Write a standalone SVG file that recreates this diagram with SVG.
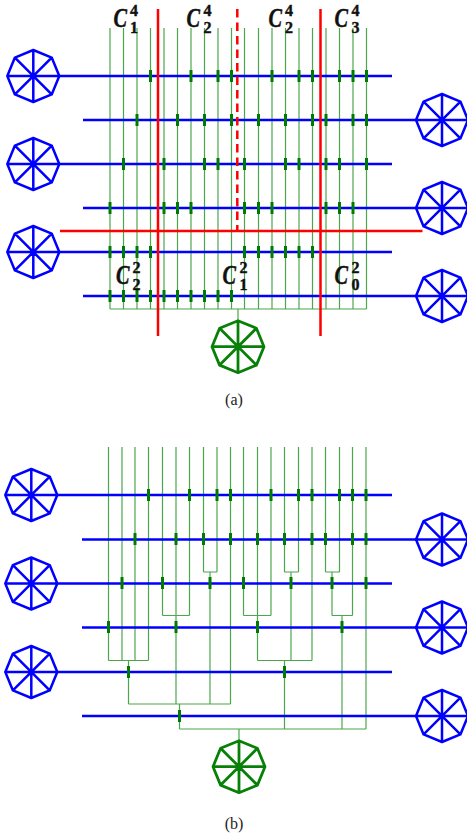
<svg xmlns="http://www.w3.org/2000/svg" width="467" height="839" viewBox="0 0 467 839">
<style>
.v{fill:none;stroke:#008000;stroke-width:1.2;stroke-opacity:.7}
.r{fill:none;stroke:#0000ff;stroke-width:2.6}
.t{fill:none;stroke:#007a00;stroke-width:3}
.x{fill:none;stroke:#ff0000;stroke-width:2.5}
.o{fill:none;stroke-width:2.5;stroke-linejoin:round}
.b{stroke:#0000ff}
.g{stroke:#088008;stroke-width:2.8}
.c{font-family:"Liberation Serif",serif;font-weight:bold;font-style:italic;font-size:27px;fill:#111;stroke:#111;stroke-width:.5}
.d{font-family:"Liberation Serif",serif;font-weight:bold;font-size:16px;text-anchor:middle;fill:#111;stroke:#111;stroke-width:.4}
.cap{font-family:"Liberation Serif",serif;font-size:16px;text-anchor:middle;fill:#222}
</style>
<defs>
<path id="oct" d="M-26 0L-18.4 -18.4L0 -26L18.4 -18.4L26 0L18.4 18.4L0 26L-18.4 18.4ZM-26 0H26M0 -26V26M-18.4 -18.4L18.4 18.4M18.4 -18.4L-18.4 18.4"/>
</defs>

<g id="connectors-a">
<path class="v" d="M110 28V309M123.5 28V309M137 28V309M150.5 28V309M164 28V309M177.5 28V309M191 28V309M204.5 28V309M218 28V309M231.5 28V309M244.5 28V309M258.5 28V309M272 28V309M285.5 28V309M299 28V309M312.5 28V309M326 28V309M339.5 28V309M353 28V309M366.5 28V309M110 309H366.5M238 309V321"/>
<path class="r" d="M58 76H392M83 120H417M58 164H392M83 208H417M58 252H392M83 296H417"/>
<path class="t" d="M150.5 70v12M191 70v12M218 70v12M231.5 70v12M272 70v12M299 70v12M312.5 70v12M339.5 70v12M353 70v12M366.5 70v12"/>
<path class="t" d="M137 114v12M177.5 114v12M204.5 114v12M231.5 114v12M258.5 114v12M285.5 114v12M312.5 114v12M326 114v12M353 114v12M366.5 114v12"/>
<path class="t" d="M123.5 158v12M164 158v12M204.5 158v12M218 158v12M244.5 158v12M285.5 158v12M299 158v12M326 158v12M339.5 158v12M366.5 158v12"/>
<path class="t" d="M110 202v12M164 202v12M177.5 202v12M191 202v12M244.5 202v12M258.5 202v12M272 202v12M326 202v12M339.5 202v12M353 202v12"/>
<path class="t" d="M110 246v12M123.5 246v12M137 246v12M150.5 246v12M244.5 246v12M258.5 246v12M272 246v12M285.5 246v12M299 246v12M312.5 246v12"/>
<path class="t" d="M110 290v12M123.5 290v12M137 290v12M150.5 290v12M164 290v12M177.5 290v12M191 290v12M204.5 290v12M218 290v12M231.5 290v12"/>
<path class="x" d="M158 9V336M320.5 9V336M60 231H422.5"/>
<path class="x" d="M237.3 9V231" stroke-dasharray="8.5 5"/>
</g>

<g id="connectors-b">
<path class="v" d="M108.5 447V660.5M122 447V660.5M135 447V660.5M148.5 447V660.5M108.5 660.5H148.5M128.5 660.5V704M128.5 704H230.5M230.5 447V704M176 447V704M179.5 704V729M162.5 447V615.5M189.5 447V615.5M162.5 615.5H189.5M203.5 447V572M217 447V572M203.5 572H217M210 572V704M243.5 447V615.5M271 447V615.5M243.5 615.5H271M257.5 447V660.5M257.5 660.5H312M312 447V660.5M284.5 447V572M298.5 447V572M284.5 572H298.5M291 572V660.5M284.5 660.5V729M325.5 447V572M339.5 447V572M325.5 572H339.5M332 572V615.5M332 615.5H352.5M352.5 447V615.5M342 615.5V729M366 447V729M179.5 729H366M239 729V741"/>
<path class="r" d="M56 495H392M82 539.5H417M56 583.5H392M82 627.5H417M56 672H392M82 716H417"/>
<path class="t" d="M148.5 489v12M189.5 489v12M217 489v12M230.5 489v12M271 489v12M298.5 489v12M312 489v12M339.5 489v12M352.5 489v12M366 489v12"/>
<path class="t" d="M135 533v12M176 533v12M203.5 533v12M230.5 533v12M257.5 533v12M284.5 533v12M312 533v12M325.5 533v12M352.5 533v12M366 533v12"/>
<path class="t" d="M122 577v12M162.5 577v12M210 577v12M243.5 577v12M291 577v12M332 577v12M366 577v12"/>
<path class="t" d="M108.5 621v12M176 621v12M257.5 621v12M342 621v12"/>
<path class="t" d="M128.5 666v12M284.5 666v12"/>
<path class="t" d="M179.5 710v12"/>
</g>

<g id="node-a-l1"><use href="#oct" class="o b" x="33.3" y="76"/></g>
<g id="node-a-l2"><use href="#oct" class="o b" x="33.3" y="164"/></g>
<g id="node-a-l3"><use href="#oct" class="o b" x="33.3" y="252"/></g>
<g id="node-a-r1"><use href="#oct" class="o b" x="442" y="120"/></g>
<g id="node-a-r2"><use href="#oct" class="o b" x="442" y="208"/></g>
<g id="node-a-r3"><use href="#oct" class="o b" x="442" y="296"/></g>
<g id="node-a-out"><use href="#oct" class="o g" x="238" y="346.7"/></g>
<g id="node-b-l1"><use href="#oct" class="o b" x="31.3" y="495"/></g>
<g id="node-b-l2"><use href="#oct" class="o b" x="31.3" y="583.5"/></g>
<g id="node-b-l3"><use href="#oct" class="o b" x="31.3" y="672"/></g>
<g id="node-b-r1"><use href="#oct" class="o b" x="442" y="539.5"/></g>
<g id="node-b-r2"><use href="#oct" class="o b" x="442" y="627.5"/></g>
<g id="node-b-r3"><use href="#oct" class="o b" x="442" y="716"/></g>
<g id="node-b-out"><use href="#oct" class="o g" x="239" y="766.7"/></g>

<g id="labels">
<text class="c" x="113.5" y="26.5" textLength="13.5" lengthAdjust="spacingAndGlyphs">C</text><text class="d" x="134" y="15.7">4</text><text class="d" x="134" y="33">1</text>
<text class="c" x="186.5" y="26.5" textLength="13.5" lengthAdjust="spacingAndGlyphs">C</text><text class="d" x="207.5" y="15.7">4</text><text class="d" x="207.5" y="33">2</text>
<text class="c" x="268.5" y="26.5" textLength="13.5" lengthAdjust="spacingAndGlyphs">C</text><text class="d" x="289" y="15.7">4</text><text class="d" x="289" y="33">2</text>
<text class="c" x="334.5" y="26.5" textLength="13.5" lengthAdjust="spacingAndGlyphs">C</text><text class="d" x="355.5" y="15.7">4</text><text class="d" x="355.5" y="33">3</text>
<text class="c" x="116" y="283.5" textLength="13.5" lengthAdjust="spacingAndGlyphs">C</text><text class="d" x="136.5" y="272.7">2</text><text class="d" x="136.5" y="290">2</text>
<text class="c" x="222.5" y="283.5" textLength="13.5" lengthAdjust="spacingAndGlyphs">C</text><text class="d" x="243.5" y="272.7">2</text><text class="d" x="243.5" y="290">1</text>
<text class="c" x="334.5" y="283.5" textLength="13.5" lengthAdjust="spacingAndGlyphs">C</text><text class="d" x="355.5" y="272.7">2</text><text class="d" x="355.5" y="290">0</text>
<text class="cap" x="234" y="405">(a)</text>
<text class="cap" x="234" y="829">(b)</text>
</g>
</svg>
